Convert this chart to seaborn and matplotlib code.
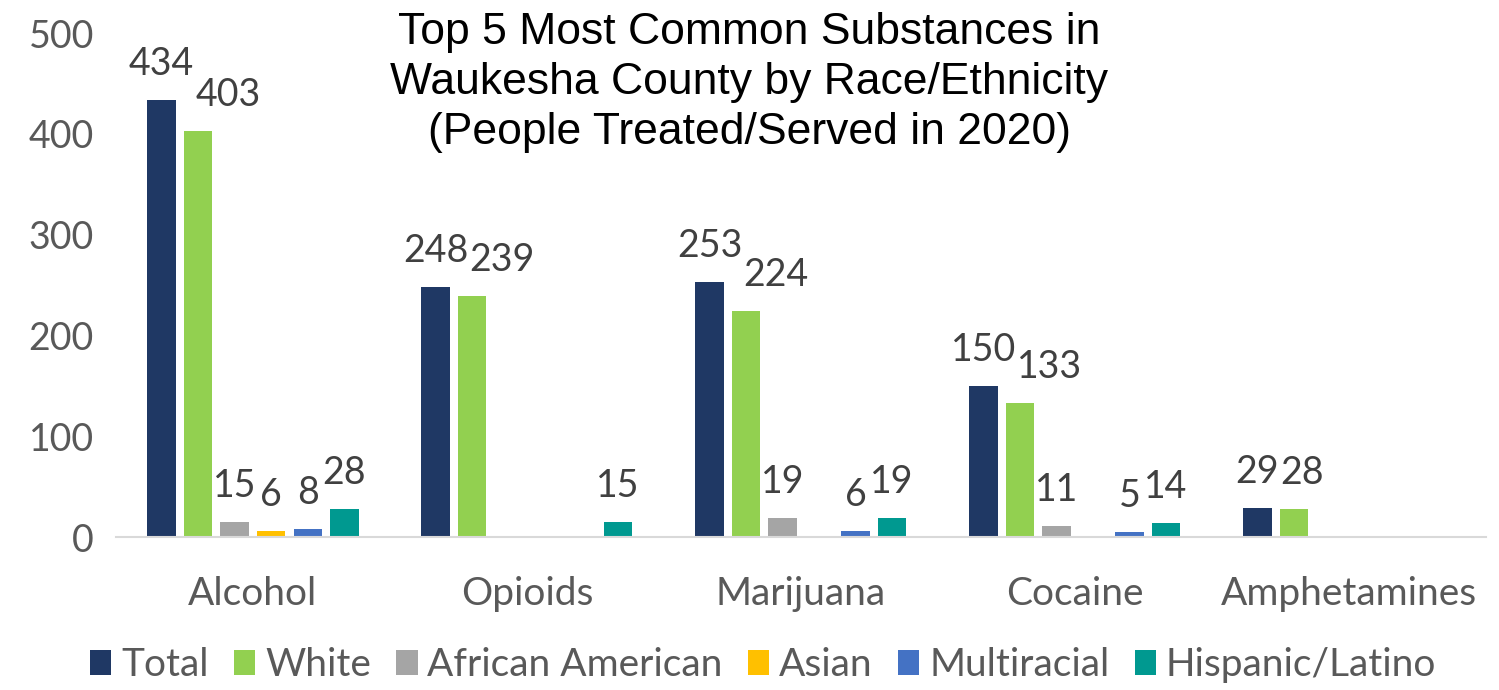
import numpy as np
import pandas as pd
import seaborn as sns
import matplotlib.pyplot as plt
from matplotlib.patches import Patch

substances = ["Alcohol", "Opioids", "Marijuana", "Cocaine", "Amphetamines"]
groups = ["Total", "White", "African American", "Asian", "Multiracial", "Hispanic/Latino"]
total = [434, 248, 253, 150, 29]
white = [403, 239, 224, 133, 28]
african_american = [15, 0, 19, 11, 0]
asian = [6, 0, 0, 0, 0]
multiracial = [8, 0, 6, 5, 0]
hispanic = [28, 15, 19, 14, 0]
colors = ["#1F3864", "#92D050", "#A5A5A5", "#FFC000", "#4472C4", "#009990"]

series = [total, white, african_american, asian, multiracial, hispanic]
rows = []
for g, vals in zip(groups, series):
    for s, v in zip(substances, vals):
        rows.append({"substance": s, "group": g, "people": v})
df = pd.DataFrame(rows)

sns.set_style("white")
plt.rcParams["font.family"] = ["Lato", "DejaVu Sans"]

fig = plt.figure(figsize=(14.99, 6.9), dpi=100)
ax = fig.add_axes([0.0774, 0.2217, 0.9136, 0.7303])
sns.barplot(data=df, x="substance", y="people", hue="group", order=substances,
            hue_order=groups, palette=colors, saturation=1, width=0.8, gap=0.22,
            linewidth=0, legend=False, ax=ax)

ax.set_ylim(0, 500)
ax.set_xlim(-0.5, 4.5)
ax.set_yticks(range(0, 501, 100))
ax.tick_params(axis="y", labelsize=27, labelcolor="#595959", length=0, pad=16)
ax.tick_params(axis="x", labelsize=28, labelcolor="#595959", length=0, pad=28)
ax.set_xlabel("")
ax.set_ylabel("")
for side in ["top", "right", "left"]:
    ax.spines[side].set_visible(False)
ax.spines["bottom"].set_color("#D9D9D9")
ax.spines["bottom"].set_linewidth(1.5)

# data labels, nudged right when they would collide with an earlier one
fig.canvas.draw()
renderer = fig.canvas.get_renderer()
for i in range(len(substances)):
    placed = []
    for cont in ax.containers:
        bar = cont[i]
        h = bar.get_height()
        if h <= 0:
            continue
        xc = bar.get_x() + bar.get_width() / 2
        t = ax.annotate(f"{int(h)}", (xc, h), xytext=(0, 13), textcoords="offset points",
                        ha="center", va="bottom", fontsize=27, color="#404040")
        bb = t.get_window_extent(renderer)
        dx = 0
        for other in placed:
            if bb.y1 > other.y0 and bb.y0 < other.y1 and bb.x0 + dx < other.x1:
                dx = other.x1 - bb.x0 + 1
        if dx > 0:
            t.set_position((dx * 72 / fig.dpi, 13))
            bb = t.get_window_extent(renderer)
        placed.append(bb)

fig.text(0.5, 0.982, "Top 5 Most Common Substances in\nWaukesha County by Race/Ethnicity\n(People Treated/Served in 2020)",
         ha="center", va="top", fontsize=32, family=["Liberation Sans", "DejaVu Sans"],
         color="black", linespacing=1.28)

handles = [Patch(facecolor=c, edgecolor="none") for c in colors]
fig.legend(handles, groups, loc="center", bbox_to_anchor=(0.509, 0.036), ncol=6,
           frameon=False, fontsize=28, labelcolor="#595959", handlelength=0.55,
           handleheight=0.6, handletextpad=0.25, columnspacing=0.65)

fig.savefig("out.png", dpi=100)
